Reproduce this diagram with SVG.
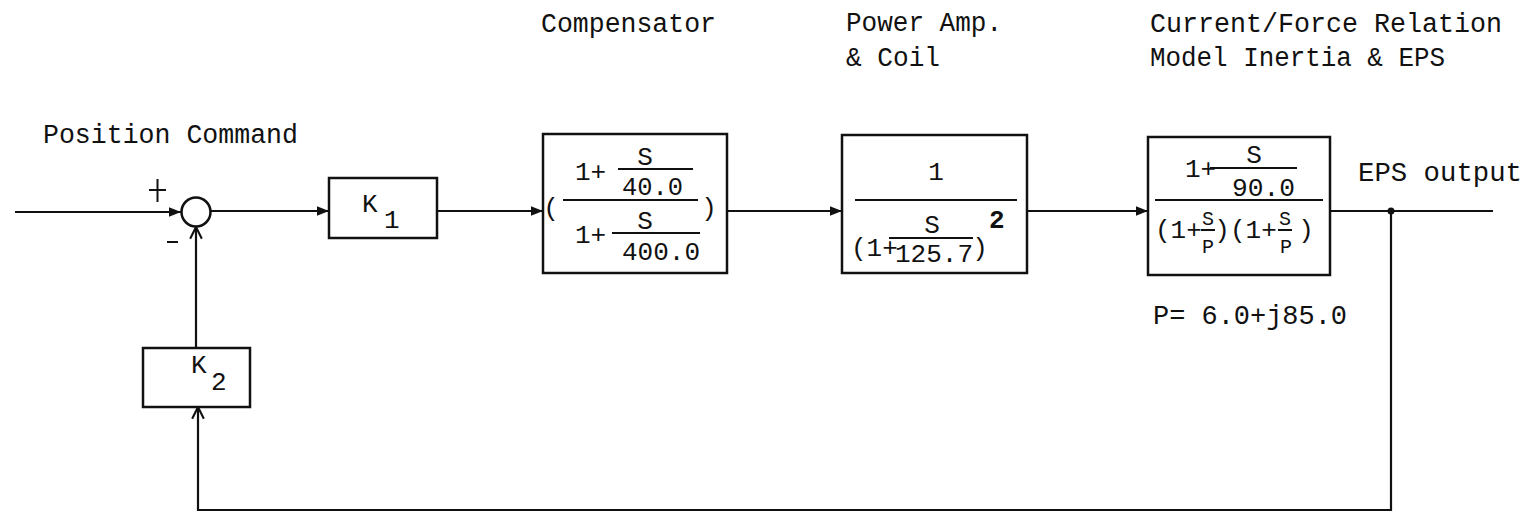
<svg xmlns="http://www.w3.org/2000/svg" width="1528" height="512" viewBox="0 0 1528 512">
<style>
.lbl{font-family:"Liberation Mono","DejaVu Sans Mono",monospace;font-size:27px;fill:#111}
.m{font-family:"Liberation Mono","DejaVu Sans Mono",monospace;font-size:26px;fill:#111}
.mc{font-family:"Liberation Mono","DejaVu Sans Mono",monospace;font-size:26px;fill:#111;text-anchor:middle}
.ms{font-family:"Liberation Mono","DejaVu Sans Mono",monospace;font-size:20px;fill:#111;text-anchor:middle}
.box{fill:none;stroke:#111;stroke-width:2.5}
.ln{fill:none;stroke:#111;stroke-width:2.2}
.fl{stroke:#111;stroke-width:2}
</style>
<defs>
<marker id="fa" viewBox="0 0 10 10" refX="10" refY="5" markerWidth="12" markerHeight="12" markerUnits="userSpaceOnUse" orient="auto"><path d="M0,1 L10,5 L0,9 Z" fill="#111"/></marker>
<marker id="oa" viewBox="0 0 12 12" refX="11" refY="6" markerWidth="14" markerHeight="14" markerUnits="userSpaceOnUse" orient="auto"><path d="M1,1 L11,6 L1,11" fill="none" stroke="#111" stroke-width="1.8"/></marker>
</defs>
<rect width="1528" height="512" fill="#fff"/>

<g id="labels">
<text class="lbl" x="43" y="143" textLength="255" lengthAdjust="spacingAndGlyphs">Position Command</text>
<text class="lbl" x="541" y="32" textLength="175" lengthAdjust="spacingAndGlyphs">Compensator</text>
<text class="lbl" x="846" y="31" textLength="156" lengthAdjust="spacingAndGlyphs">Power Amp.</text>
<text class="lbl" x="846" y="66" textLength="94" lengthAdjust="spacingAndGlyphs">&amp; Coil</text>
<text class="lbl" x="1150" y="32" textLength="352" lengthAdjust="spacingAndGlyphs">Current/Force Relation</text>
<text class="lbl" x="1150" y="66" textLength="295" lengthAdjust="spacingAndGlyphs">Model Inertia &amp; EPS</text>
<text class="lbl" x="1358" y="181" textLength="164" lengthAdjust="spacingAndGlyphs">EPS output</text>
<text class="lbl" x="1153" y="324" textLength="194" lengthAdjust="spacingAndGlyphs">P= 6.0+j85.0</text>
</g>

<g id="sum">
<circle cx="196" cy="212" r="14.5" class="box" stroke-width="2.2"/>
<line x1="149" y1="190" x2="166" y2="190" class="fl" stroke-width="2.5"/>
<line x1="157.5" y1="179" x2="157.5" y2="202" class="fl" stroke-width="2.5"/>
<line x1="167" y1="242" x2="178" y2="242" class="fl" stroke-width="2.5"/>
</g>

<g id="k1">
<rect x="329" y="178" width="108" height="60" class="box"/>
<text class="m" x="362" y="212" font-size="28">K</text>
<text class="m" x="384" y="228" font-size="28">1</text>
</g>

<g id="compensator">
<rect x="543" y="134" width="184" height="139" class="box"/>
<text class="mc" x="551" y="216">(</text>
<text class="m" x="575" y="180" font-size="22">1+</text>
<text class="mc" x="645" y="165">S</text>
<line x1="618" y1="169" x2="693" y2="169" class="fl"/>
<text class="m" x="622" y="195" textLength="61" lengthAdjust="spacingAndGlyphs">40.0</text>
<line x1="563" y1="200" x2="698" y2="200" class="fl"/>
<text class="m" x="575" y="243" font-size="22">1+</text>
<text class="mc" x="645" y="229">S</text>
<line x1="612" y1="233" x2="700" y2="233" class="fl"/>
<text class="m" x="622" y="260" textLength="78" lengthAdjust="spacingAndGlyphs">400.0</text>
<text class="mc" x="709" y="216">)</text>
</g>

<g id="poweramp">
<rect x="842" y="135" width="185" height="138" class="box"/>
<text class="mc" x="936" y="180">1</text>
<line x1="855" y1="200" x2="1017" y2="200" class="fl"/>
<text class="m" x="851" y="256" font-size="20">(1+</text>
<text class="mc" x="932" y="233">S</text>
<line x1="889" y1="238" x2="973" y2="238" class="fl"/>
<text class="m" x="895" y="262" font-size="23">125.7</text>
<text class="mc" x="980" y="256" font-size="24">)</text>
<text class="m" x="989" y="228" font-size="16" font-weight="bold">2</text>
</g>

<g id="plant">
<rect x="1148" y="137" width="182" height="138" class="box"/>
<text class="m" x="1185" y="177" font-size="19">1+</text>
<text class="mc" x="1254" y="163">S</text>
<line x1="1210" y1="168" x2="1297" y2="168" class="fl"/>
<text class="m" x="1232" y="196" textLength="63" lengthAdjust="spacingAndGlyphs">90.0</text>
<line x1="1155" y1="200" x2="1323" y2="200" class="fl"/>
<text class="m" x="1155" y="238" font-size="20">(1+</text>
<text class="ms" x="1208" y="225">S</text>
<line x1="1201" y1="230" x2="1215" y2="230" class="fl"/>
<text class="ms" x="1208" y="253">P</text>
<text class="mc" x="1222" y="238" font-size="24">)</text>
<text class="m" x="1230" y="238" font-size="20">(1+</text>
<text class="ms" x="1285" y="225">S</text>
<line x1="1278" y1="230" x2="1292" y2="230" class="fl"/>
<text class="ms" x="1286" y="253">P</text>
<text class="mc" x="1306" y="238" font-size="24">)</text>
</g>

<g id="k2">
<rect x="143" y="348" width="107" height="59" class="box"/>
<text class="m" x="191" y="373" font-size="25">K</text>
<text class="m" x="211" y="390" font-size="25">2</text>
</g>

<g id="connectors">
<line x1="15" y1="212" x2="181" y2="212" class="ln" marker-end="url(#fa)"/>
<line x1="211" y1="211" x2="329" y2="211" class="ln" marker-end="url(#fa)"/>
<line x1="437" y1="211" x2="543" y2="211" class="ln" marker-end="url(#fa)"/>
<line x1="727" y1="211" x2="842" y2="211" class="ln" marker-end="url(#fa)"/>
<line x1="1027" y1="211" x2="1148" y2="211" class="ln" marker-end="url(#fa)"/>
<line x1="1330" y1="211" x2="1493" y2="211" class="ln"/>
<circle cx="1391" cy="211" r="3.5" fill="#111"/>
<polyline points="1391,211 1391,510 198,510 198,407" class="ln" marker-end="url(#oa)"/>
<line x1="196" y1="348" x2="196" y2="227" class="ln" marker-end="url(#oa)"/>
</g>
</svg>
